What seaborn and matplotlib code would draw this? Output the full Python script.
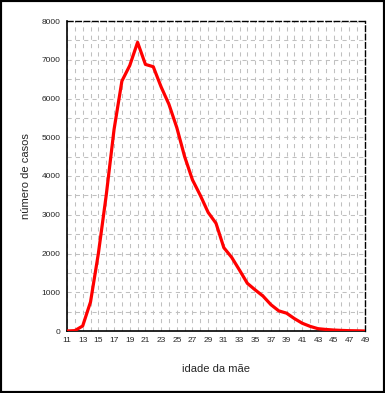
import matplotlib
matplotlib.use("Agg")
import matplotlib.pyplot as plt
import numpy as np
import pandas as pd
import seaborn as sns
from matplotlib.ticker import MultipleLocator
from matplotlib.patches import Rectangle

# ages of the mother and number of cases
idade = list(range(11, 50))
casos = [0, 10, 130, 750, 2000, 3500, 5200, 6450, 6850, 7450,
         6880, 6820, 6300, 5850, 5250, 4500, 3900, 3500, 3060, 2780,
         2150, 1900, 1570, 1230, 1060, 900, 680, 520, 460, 320,
         200, 120, 60, 40, 25, 15, 8, 5, 0]

df = pd.DataFrame({"idade": idade, "casos": casos})

sns.set_style("white")
plt.rcParams['font.family'] = ['Liberation Sans', 'DejaVu Sans']

fig = plt.figure(figsize=(3.85, 3.93), dpi=100)
ax = fig.add_axes([67/385, 1-331/393, (365-67)/385, (331-21)/393])

ax.xaxis.set_minor_locator(MultipleLocator(1))
ax.yaxis.set_minor_locator(MultipleLocator(500))
ax.grid(True, which="both", color="#c0c0c0", linestyle=(0, (4, 4)), linewidth=0.75)
ax.set_axisbelow(True)

sns.lineplot(data=df, x="idade", y="casos", ax=ax, color="#ff0000",
             linewidth=2.3, zorder=3)

ax.set_xlim(11, 49)
ax.set_ylim(0, 8000)
ax.set_xticks(range(11, 50, 2))
ax.set_yticks(range(0, 8001, 1000))
ax.tick_params(axis="both", which="major", direction="out", length=2.5,
               width=2.5, color="black", labelsize=6, pad=2)
ax.tick_params(axis="both", which="minor", direction="out", length=2.5,
               width=0.8, color="black")
ax.tick_params(axis="x", which="minor", width=2.5)

for s in ["left", "bottom"]:
    ax.spines[s].set_color("black")
    ax.spines[s].set_linewidth(1.2)
for s in ["top", "right"]:
    ax.spines[s].set_color("black")
    ax.spines[s].set_linewidth(1.0)
    ax.spines[s].set_linestyle((0, (4, 2)))

ax.set_xlabel("idade da mãe", fontsize=8, labelpad=14)
ax.set_ylabel("número de casos", fontsize=8, labelpad=8)

fig.patches.append(Rectangle((0, 0), 1, 1, transform=fig.transFigure,
                             fill=False, edgecolor="black", linewidth=3))

fig.savefig("out.png", dpi=100)
